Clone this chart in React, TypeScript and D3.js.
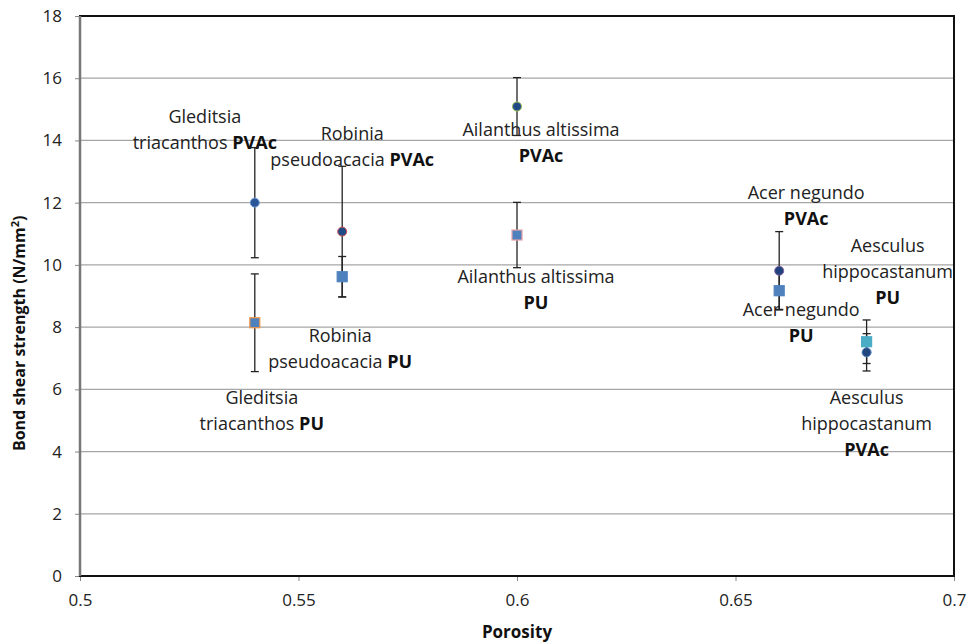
import React, { useEffect, useRef } from 'react';
import * as d3 from 'd3';

// species, porosity and bond shear strength (N/mm2)
const species = ['Gleditsia triacanthos', 'Robinia pseudoacacia', 'Ailanthus altissima', 'Acer negundo', 'Aesculus hippocastanum'];
const porosity = [0.54, 0.56, 0.6, 0.66, 0.68];
const pvacValues = [12.0, 11.07, 15.09, 9.81, 7.19];
const pvacErrors = [1.77, 2.1, 0.93, 1.26, 0.6];
const puValues = [8.14, 9.62, 10.96, 9.17, 7.53];
const puErrors = [1.57, 0.65, 1.05, 0.6, 0.7];
const xTicks = [0.5, 0.55, 0.6, 0.65, 0.7];
const yTicks = [0, 2, 4, 6, 8, 10, 12, 14, 16, 18];

// marker colours per point (fill / outline)
const pvacFill = ['#2a5597', '#1f4a86', '#1f4a86', '#22427e', '#23467f'];
const pvacStroke = ['#6d9bd6', '#d05050', '#9bbb59', '#8064a2', '#4f81bd'];
const puFill = ['#4f81bd', '#4f81bd', '#4f81bd', '#4f81bd', '#4bacc6'];
const puStroke = ['#f79646', '#4f81bd', '#e8a0a8', '#4f81bd', '#4bacc6'];

// label lines: [plain, bold]
const pvacLabels = [
  [['Gleditsia', ''], ['triacanthos ', 'PVAc']],
  [['Robinia', ''], ['pseudoacacia ', 'PVAc']],
  [['Ailanthus altissima', ''], ['', 'PVAc']],
  [['Acer negundo', ''], ['', 'PVAc']],
  [['Aesculus', ''], ['hippocastanum', ''], ['', 'PVAc']],
];
const puLabels = [
  [['Gleditsia', ''], ['triacanthos ', 'PU']],
  [['Robinia', ''], ['pseudoacacia ', 'PU']],
  [['Ailanthus altissima', ''], ['', 'PU']],
  [['Acer negundo', ''], ['', 'PU']],
  [['Aesculus', ''], ['hippocastanum', ''], ['', 'PU']],
];
// label block offset from the point: [dx, dy of first line]
const pvacLabelPos = [[-50, -85], [10, -97], [24, 24], [27, -77], [0, 47]];
const puLabelPos = [[7, 76], [-2, 60], [19, 43], [22, 20], [21, -95]];
const lineGap = 26;

const W = 971;
const H = 644;
const margin = { top: 16, right: 17, bottom: 68, left: 80 };
const font = "'Open Sans', 'Liberation Sans', sans-serif";

export default function App() {
  const ref = useRef<SVGSVGElement>(null);

  useEffect(() => {
    const svg = d3.select(ref.current);
    svg.selectAll('*').remove();

    const x = d3.scaleLinear().domain([0.5, 0.7]).range([margin.left, W - margin.right]);
    const y = d3.scaleLinear().domain([0, 18]).range([H - margin.bottom, margin.top]);

    // gridlines
    svg.append('g')
      .selectAll('line')
      .data(yTicks.slice(1))
      .join('line')
      .attr('x1', x(0.5))
      .attr('x2', x(0.7))
      .attr('y1', d => y(d))
      .attr('y2', d => y(d))
      .attr('stroke', '#a6a6a6')
      .attr('stroke-width', 1.3);

    // axes
    const xAxis = svg.append('g')
      .attr('transform', `translate(0,${y(0)})`)
      .call(d3.axisBottom(x).tickValues(xTicks).tickSize(5).tickPadding(13).tickFormat(d => String(d)));
    const yAxis = svg.append('g')
      .attr('transform', `translate(${x(0.5)},0)`)
      .call(d3.axisLeft(y).tickValues(yTicks).tickSize(5).tickPadding(13).tickFormat(d => String(d)));
    [xAxis, yAxis].forEach(g => {
      g.select('.domain').remove();
      g.selectAll('.tick line').attr('stroke', '#868686');
      g.selectAll('.tick text')
        .attr('font-family', font)
        .attr('font-size', 17)
        .attr('fill', '#222');
    });

    // plot frame
    svg.append('rect')
      .attr('x', x(0.5))
      .attr('y', y(18))
      .attr('width', x(0.7) - x(0.5))
      .attr('height', y(0) - y(18))
      .attr('fill', 'none')
      .attr('stroke', '#111')
      .attr('stroke-width', 2);
    svg.append('line')
      .attr('x1', x(0.5)).attr('x2', x(0.5))
      .attr('y1', y(18)).attr('y2', y(0))
      .attr('stroke', '#777')
      .attr('stroke-width', 2.5);

    // labels
    const drawLabels = (vals: number[], labels: string[][][], pos: number[][]) => {
      labels.forEach((lines, i) => {
        lines.forEach((parts, j) => {
          const t = svg.append('text')
            .attr('x', x(porosity[i]) + pos[i][0])
            .attr('y', y(vals[i]) + pos[i][1] + j * lineGap)
            .attr('text-anchor', 'middle')
            .attr('dominant-baseline', 'middle')
            .attr('font-family', font)
            .attr('font-size', 18)
            .attr('fill', '#222');
          if (parts[0]) t.append('tspan').text(parts[0]);
          if (parts[1]) t.append('tspan').attr('font-weight', 'bold').attr('fill', '#111').text(parts[1]);
        });
      });
    };
    drawLabels(pvacValues, pvacLabels, pvacLabelPos);
    drawLabels(puValues, puLabels, puLabelPos);

    // error bars
    const drawErr = (vals: number[], errs: number[]) => {
      const g = svg.append('g').attr('stroke', '#222').attr('stroke-width', 1.3);
      vals.forEach((v, i) => {
        const cx = x(porosity[i]);
        g.append('line').attr('x1', cx).attr('x2', cx).attr('y1', y(v - errs[i])).attr('y2', y(v + errs[i]));
        [v - errs[i], v + errs[i]].forEach(e => {
          g.append('line').attr('x1', cx - 4).attr('x2', cx + 4).attr('y1', y(e)).attr('y2', y(e));
        });
      });
    };
    drawErr(pvacValues, pvacErrors);
    drawErr(puValues, puErrors);

    // PVAc markers (circles)
    svg.append('g')
      .selectAll('circle')
      .data(pvacValues)
      .join('circle')
      .attr('cx', (d, i) => x(porosity[i]))
      .attr('cy', d => y(d))
      .attr('r', 4.5)
      .attr('fill', (d, i) => pvacFill[i])
      .attr('stroke', (d, i) => pvacStroke[i])
      .attr('stroke-width', 1);

    // PU markers (squares)
    svg.append('g')
      .selectAll('rect')
      .data(puValues)
      .join('rect')
      .attr('x', (d, i) => x(porosity[i]) - 5)
      .attr('y', d => y(d) - 5)
      .attr('width', 10)
      .attr('height', 10)
      .attr('fill', (d, i) => puFill[i])
      .attr('stroke', (d, i) => puStroke[i])
      .attr('stroke-width', 1.2);

    // axis titles
    svg.append('text')
      .attr('x', (x(0.5) + x(0.7)) / 2)
      .attr('y', 638)
      .attr('text-anchor', 'middle')
      .attr('font-family', font)
      .attr('font-size', 17)
      .attr('font-weight', 'bold')
      .attr('fill', '#111')
      .text('Porosity');

    const yt = svg.append('text')
      .attr('transform', `translate(25,${y(7.8)}) rotate(-90)`)
      .attr('text-anchor', 'middle')
      .attr('font-family', font)
      .attr('font-size', 16)
      .attr('font-weight', 'bold')
      .attr('fill', '#111');
    yt.append('tspan').text('Bond shear strength (N/mm');
    yt.append('tspan').attr('font-size', 11).attr('dy', -6).text('2');
    yt.append('tspan').attr('dy', 6).text(')');
  }, []);

  return (
    <svg ref={ref} width={W} height={H} style={{ position: 'absolute', left: 0, top: 0, background: '#fff' }} />
  );
}
